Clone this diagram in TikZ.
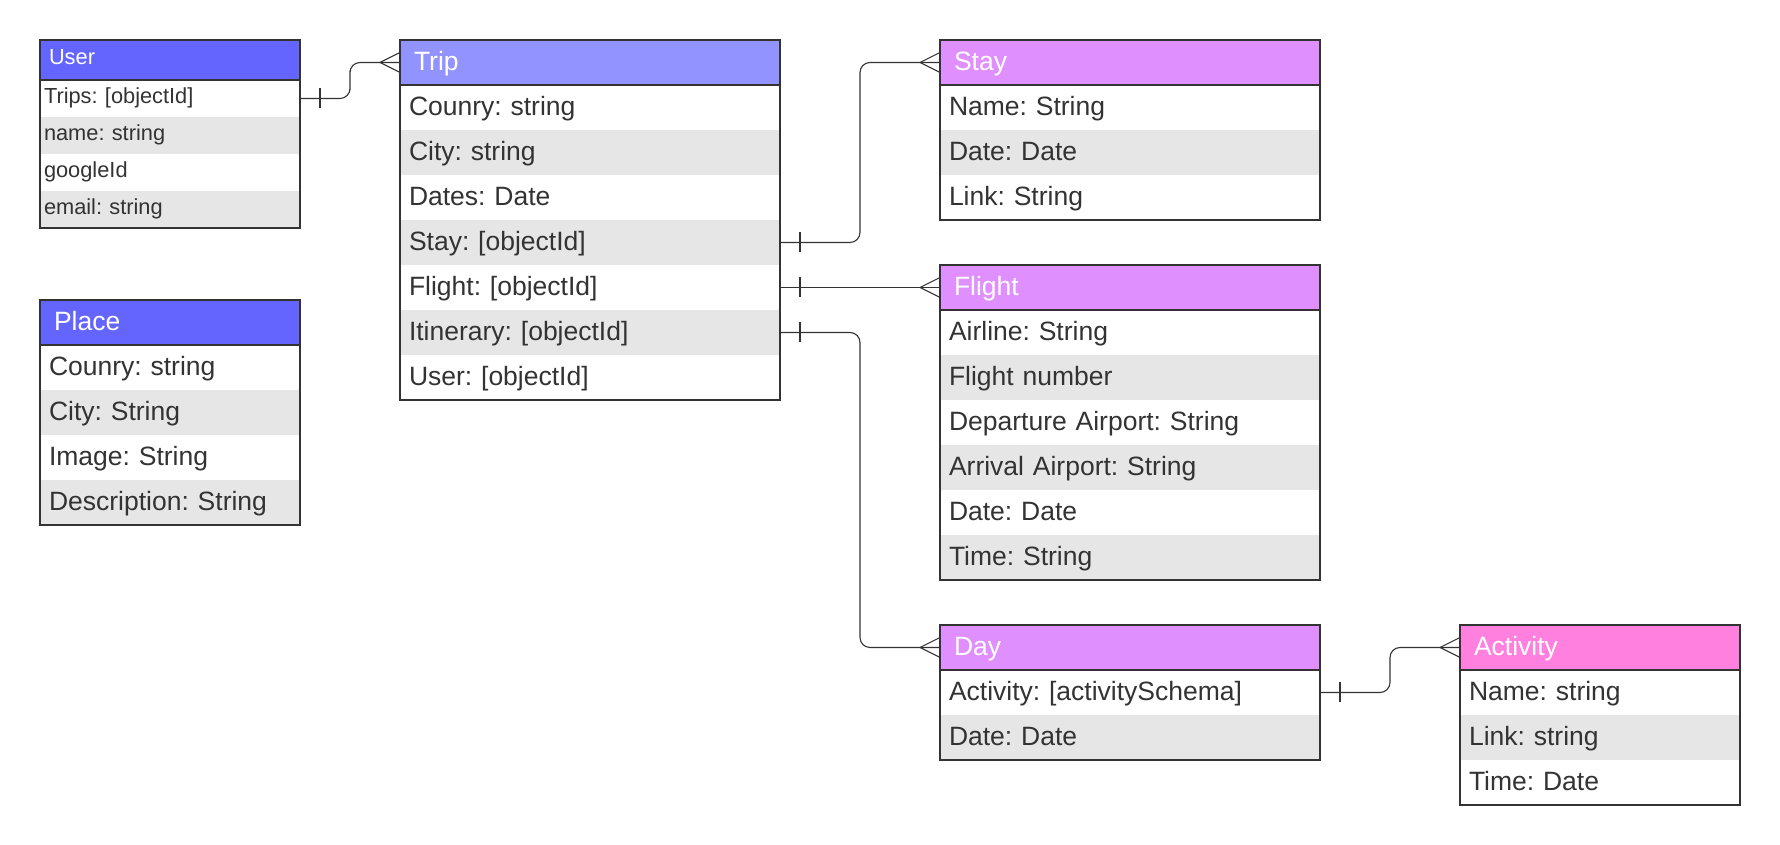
\documentclass[tikz,border=0pt]{standalone}
\usepackage{fontspec}
\setmainfont{Liberation Sans}
\usepackage{tikz}
\usetikzlibrary{positioning,calc}

\definecolor{usercol}{HTML}{6464FF}
\definecolor{tripcol}{HTML}{9393FF}
\definecolor{subcol}{HTML}{E08FFF}
\definecolor{actcol}{HTML}{FF80DF}
\definecolor{rowgray}{HTML}{E6E6E6}
\definecolor{ink}{HTML}{333333}

\frenchspacing
\begin{document}
\begin{tikzpicture}[x=1pt,y=1pt,
  lpad/.store in=\cellpad, lpad=9pt,
  cell/.style={rectangle,inner sep=0pt,outer sep=0pt,minimum height=45pt,text height=19.3pt,text depth=4pt,
    align=left,font=\fontsize{26.5pt}{30pt}\selectfont\frenchspacing,execute at begin node=\hspace*{\cellpad}},
  head/.style={cell,fill=#1,text=white,lpad=14pt},
  field/.style={cell,fill=white,text=ink,lpad=9pt},
  alt/.style={field,fill=rowgray},
  small/.style={minimum height=37pt,text height=16pt,text depth=6pt,font=\fontsize{21.8pt}{24pt}\selectfont\frenchspacing},
  frame/.style={draw=ink,line width=1.3pt},
  link/.style={draw=ink,line width=1.1pt,rounded corners=10pt},
  crow/.style={draw=ink,line width=1.1pt}]
\useasboundingbox (0,0) rectangle (1780,845);

\begin{scope}[every node/.append style={text width=260pt}]
\node[head=usercol,small,minimum height=40pt,lpad=9pt,anchor=north west] (user) at (40,805) {User};
\node[field,small,lpad=4pt] (user1) [below=0pt of user] {Trips: [objectId]};
\node[alt,small,lpad=4pt] (user2) [below=0pt of user1] {name: string};
\node[field,small,lpad=4pt] (user3) [below=0pt of user2] {googleId};
\node[alt,small,lpad=4pt] (user4) [below=0pt of user3] {email: string};

\node[head=usercol,anchor=north west] (place) at (40,545) {Place};
\node[field] (place1) [below=0pt of place] {Counry: string};
\node[alt] (place2) [below=0pt of place1] {City: String};
\node[field] (place3) [below=0pt of place2] {Image: String};
\node[alt] (place4) [below=0pt of place3] {Description: String};
\end{scope}

\begin{scope}[every node/.append style={text width=380pt}]
\node[head=tripcol,anchor=north west] (trip) at (400,805) {Trip};
\node[field] (trip1) [below=0pt of trip] {Counry: string};
\node[alt] (trip2) [below=0pt of trip1] {City: string};
\node[field] (trip3) [below=0pt of trip2] {Dates: Date};
\node[alt] (trip4) [below=0pt of trip3] {Stay: [objectId]};
\node[field] (trip5) [below=0pt of trip4] {Flight: [objectId]};
\node[alt] (trip6) [below=0pt of trip5] {Itinerary: [objectId]};
\node[field] (trip7) [below=0pt of trip6] {User: [objectId]};

\node[head=subcol,anchor=north west] (stay) at (940,805) {Stay};
\node[field] (stay1) [below=0pt of stay] {Name: String};
\node[alt] (stay2) [below=0pt of stay1] {Date: Date};
\node[field] (stay3) [below=0pt of stay2] {Link: String};

\node[head=subcol,anchor=north west] (flight) at (940,580) {Flight};
\node[field] (flight1) [below=0pt of flight] {Airline: String};
\node[alt] (flight2) [below=0pt of flight1] {Flight number};
\node[field] (flight3) [below=0pt of flight2] {Departure Airport: String};
\node[alt] (flight4) [below=0pt of flight3] {Arrival Airport: String};
\node[field] (flight5) [below=0pt of flight4] {Date: Date};
\node[alt] (flight6) [below=0pt of flight5] {Time: String};

\node[head=subcol,anchor=north west] (day) at (940,220) {Day};
\node[field] (day1) [below=0pt of day] {Activity: [activitySchema]};
\node[alt] (day2) [below=0pt of day1] {Date: Date};
\end{scope}

\begin{scope}[every node/.append style={text width=280pt}]
\node[head=actcol,anchor=north west] (activity) at (1460,220) {Activity};
\node[field] (activity1) [below=0pt of activity] {Name: string};
\node[alt] (activity2) [below=0pt of activity1] {Link: string};
\node[field] (activity3) [below=0pt of activity2] {Time: Date};
\end{scope}

\foreach \t/\l in {user/user4,place/place4,trip/trip7,stay/stay3,flight/flight6,day/day2,activity/activity3}
  \draw[frame] (\t.north west) rectangle (\l.south east) (\t.south west) -- (\t.south east);

\foreach \a/\b in {user1/trip,trip4/stay,trip6/day,day1/activity}
  \draw[link] (\a.east) -| ($(\a.east)!.5!(\b.west)$) |- (\b.west);
\draw[link] (trip5.east) -- (flight.west);

\foreach \a/\b in {user1/trip,trip4/stay,trip5/flight,trip6/day,day1/activity}{
  \draw[crow] ([xshift=20pt]\a.east) +(0,10pt) -- +(0,-10pt);
  \draw[crow] ([yshift=10pt]\b.west) -- ([xshift=-20pt]\b.west) -- ([yshift=-10pt]\b.west);
}
\end{tikzpicture}
\end{document}
